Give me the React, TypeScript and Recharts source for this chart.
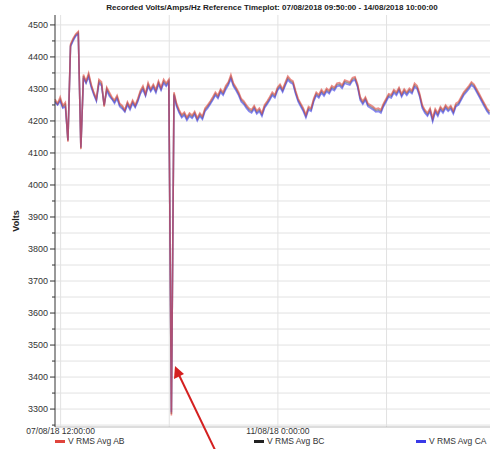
import { LineChart, Line, XAxis, YAxis, CartesianGrid } from "recharts"

// hourly samples, hours since 07/08/2018 09:50:00
const hours = Array.from({ length: 169 }, (_, i) => i)

const vAB = [
  4268, 4255, 4275, 4248, 4258, 4135, 4440, 4458, 4472, 4480,
  4112, 4345, 4325, 4350, 4315, 4290, 4270, 4330, 4322, 4245,
  4305, 4290, 4275, 4265, 4280, 4255, 4248, 4235, 4260, 4245,
  4265, 4250, 4270, 4295, 4310, 4285, 4320, 4300, 4315, 4298,
  4325, 4305, 4330, 4318, 4330, 3280, 4290, 4255, 4235, 4220,
  4228, 4212, 4225, 4218, 4230, 4210, 4225, 4215, 4240, 4250,
  4262, 4275, 4290, 4280, 4300, 4290, 4310, 4322, 4345, 4318,
  4305, 4290, 4270, 4262, 4250, 4240, 4235, 4248, 4232, 4240,
  4225, 4250, 4262, 4275, 4290, 4282, 4305, 4315, 4300, 4320,
  4340, 4330, 4325, 4295, 4270, 4255, 4240, 4220, 4245, 4240,
  4270, 4290, 4282, 4298, 4288, 4302, 4295, 4310, 4305, 4318,
  4320, 4312, 4328, 4325, 4322, 4335, 4338, 4315, 4275, 4262,
  4275, 4255, 4250, 4245, 4238, 4240, 4235, 4255, 4270, 4285,
  4282, 4298, 4290, 4305, 4285, 4300, 4290, 4302, 4295, 4318,
  4310, 4285, 4250, 4235, 4225, 4240, 4210, 4238, 4225, 4245,
  4235, 4250, 4240, 4248, 4232, 4255, 4260, 4275, 4290, 4300,
  4310, 4322, 4315, 4300, 4285, 4270, 4255, 4240, 4230,
]

const vBC = [
  4262, 4252, 4268, 4244, 4252, 4138, 4436, 4454, 4468, 4476,
  4115, 4340, 4320, 4344, 4310, 4286, 4266, 4324, 4316, 4248,
  4300, 4284, 4270, 4260, 4275, 4250, 4243, 4231, 4255, 4240,
  4260, 4246, 4265, 4290, 4304, 4281, 4314, 4296, 4310, 4293,
  4320, 4300, 4324, 4313, 4325, 3285, 4285, 4250, 4230, 4215,
  4223, 4207, 4220, 4213, 4225, 4205, 4220, 4210, 4235, 4245,
  4257, 4270, 4285, 4275, 4295, 4285, 4304, 4317, 4338, 4313,
  4300, 4285, 4265, 4257, 4245, 4235, 4230, 4243, 4227, 4235,
  4220, 4245, 4257, 4270, 4285, 4277, 4300, 4310, 4295, 4315,
  4334, 4325, 4320, 4290, 4265, 4250, 4235, 4215, 4240, 4235,
  4265, 4285, 4277, 4293, 4283, 4297, 4290, 4305, 4300, 4313,
  4315, 4307, 4323, 4320, 4317, 4330, 4333, 4310, 4270, 4257,
  4270, 4250, 4245, 4240, 4233, 4235, 4230, 4250, 4265, 4280,
  4277, 4293, 4285, 4300, 4280, 4295, 4285, 4297, 4290, 4312,
  4305, 4280, 4245, 4230, 4220, 4235, 4204, 4233, 4220, 4240,
  4230, 4245, 4235, 4243, 4227, 4250, 4255, 4270, 4285, 4295,
  4305, 4317, 4310, 4295, 4280, 4265, 4250, 4235, 4225,
]

const vCA = [
  4258, 4250, 4262, 4240, 4245, 4140, 4432, 4450, 4465, 4472,
  4118, 4335, 4318, 4338, 4305, 4282, 4262, 4318, 4310, 4250,
  4295, 4278, 4268, 4255, 4270, 4245, 4238, 4228, 4250, 4235,
  4255, 4242, 4260, 4285, 4298, 4278, 4308, 4292, 4305, 4288,
  4315, 4296, 4318, 4308, 4320, 3290, 4280, 4245, 4225, 4210,
  4218, 4202, 4215, 4208, 4220, 4200, 4215, 4205, 4230, 4240,
  4252, 4265, 4280, 4270, 4290, 4280, 4298, 4312, 4332, 4308,
  4295, 4280, 4260, 4252, 4240, 4230, 4225, 4238, 4222, 4230,
  4215, 4240, 4252, 4265, 4280, 4272, 4295, 4305, 4290, 4310,
  4328, 4320, 4315, 4285, 4260, 4245, 4230, 4210, 4235, 4230,
  4260, 4280, 4272, 4288, 4278, 4292, 4285, 4300, 4295, 4308,
  4310, 4302, 4318, 4315, 4312, 4325, 4328, 4305, 4265, 4252,
  4265, 4245, 4240, 4235, 4228, 4230, 4225, 4245, 4260, 4275,
  4272, 4288, 4280, 4295, 4275, 4290, 4280, 4292, 4285, 4306,
  4300, 4275, 4240, 4225, 4215, 4230, 4198, 4228, 4215, 4235,
  4225, 4240, 4230, 4238, 4222, 4245, 4250, 4265, 4280, 4290,
  4300, 4312, 4305, 4290, 4275, 4260, 4245, 4230, 4220,
]

const startLabel = "07/08/2018 09:50:00"
const endLabel = "14/08/2018 10:00:00"
const xTicks = [2.17, 44.17, 86.17, 128.17]
const xTickLabels = ["07/08/18 12:00:00", "", "11/08/18 0:00:00", ""]
const yTicks = [
  3250, 3300, 3350, 3400, 3450, 3500, 3550, 3600, 3650, 3700, 3750, 3800, 3850,
  3900, 3950, 4000, 4050, 4100, 4150, 4200, 4250, 4300, 4350, 4400, 4450, 4500,
]

const series = [
  { key: "bc", name: "V RMS Avg BC", color: "#222222", values: vBC },
  { key: "ca", name: "V RMS Avg CA", color: "#3a3ae8", values: vCA },
  { key: "ab", name: "V RMS Avg AB", color: "#e0443c", values: vAB },
]
const legendOrder = ["ab", "bc", "ca"]
const legendX = [55, 254, 416]

const data = hours.map((h, i) => ({
  h,
  ab: vAB[i],
  bc: vBC[i],
  ca: vCA[i],
}))

const font = "'Liberation Sans', Arial, sans-serif"

function YTick(props: any) {
  const { x, y, payload } = props
  const major = payload.value % 100 === 0
  const axisX = x + 6
  return (
    <g>
      <line x1={axisX - (major ? 5 : 3)} x2={axisX} y1={y} y2={y} stroke="#333" strokeWidth={1} />
      {major && (
        <text x={x - 1} y={y} dy={3} textAnchor="end" fontSize={9} fill="#333" fontFamily={font}>
          {payload.value}
        </text>
      )}
    </g>
  )
}

function XTick(props: any) {
  const { x, y, payload } = props
  const idx = xTicks.indexOf(payload.value)
  const label = xTickLabels[idx] || ""
  return (
    <text x={x} y={y} dy={-1} textAnchor="middle" fontSize={8.5} fill="#333" fontFamily={font}>
      {label}
    </text>
  )
}

export default function App() {
  return (
    <div style={{ position: "absolute", left: 0, top: 0, width: 494, height: 449, background: "#fff", fontFamily: font }}>
      <LineChart width={494} height={449} data={data} margin={{ top: 15, right: 4, bottom: 0, left: 0 }}>
        <CartesianGrid stroke="#e2e2e2" horizontalValues={yTicks} verticalValues={xTicks} />
        <XAxis
          dataKey="h"
          type="number"
          domain={[0, 168.17]}
          ticks={xTicks}
          tick={<XTick />}
          tickLine={false}
          axisLine={{ stroke: "#bbb" }}
          height={22}
          interval={0}
        />
        <XAxis xAxisId="top" orientation="top" dataKey="h" type="number" domain={[0, 168.17]} height={0} tick={false} tickLine={false} axisLine={{ stroke: "#ccc" }} />
        <YAxis
          type="number"
          domain={[3244, 4531]}
          ticks={yTicks}
          tick={<YTick />}
          tickLine={false}
          tickSize={5}
          tickMargin={1}
          axisLine={{ stroke: "#333" }}
          width={55}
          interval={0}
          allowDataOverflow
          label={{ value: "Volts", angle: -90, position: "insideLeft", offset: 16, style: { fontSize: 9, fontWeight: "bold", fill: "#222", fontFamily: font, textAnchor: "middle" } }}
        />
        <YAxis yAxisId="right" orientation="right" width={0} tick={false} tickLine={false} axisLine={{ stroke: "#ccc" }} />
        {series.map((s) => (
          <Line
            key={s.key}
            dataKey={s.key}
            name={s.name}
            stroke={s.color}
            strokeOpacity={s.key === "bc" ? 0.45 : 0.6}
            strokeWidth={1.6}
            dot={false}
            type="linear"
            isAnimationActive={false}
          />
        ))}
      </LineChart>
      <div style={{ position: "absolute", left: 0, top: 3, width: 544, textAlign: "center", fontSize: 8, fontWeight: "bold", color: "#222", whiteSpace: "nowrap" }}>
        Recorded Volts/Amps/Hz Reference Timeplot: {startLabel} - {endLabel}
      </div>
      {legendOrder.map((k, i) => {
        const s = series.find((x) => x.key === k)!
        return (
          <div key={k} style={{ position: "absolute", left: legendX[i], top: 436, height: 10, lineHeight: "10px", display: "flex", alignItems: "center", fontSize: 8.5, color: "#333", whiteSpace: "nowrap" }}>
            <span style={{ display: "inline-block", width: 10, height: 3, background: s.color, marginRight: 3 }} />
            {s.name}
          </div>
        )
      })}
      <svg width={494} height={449} style={{ position: "absolute", left: 0, top: 0, pointerEvents: "none" }}>
        <line x1={216} y1={452} x2={179} y2={375} stroke="#d42020" strokeWidth={2} />
        <polygon points="175,366 174,379 184,374" fill="#d42020" />
      </svg>
    </div>
  )
}
